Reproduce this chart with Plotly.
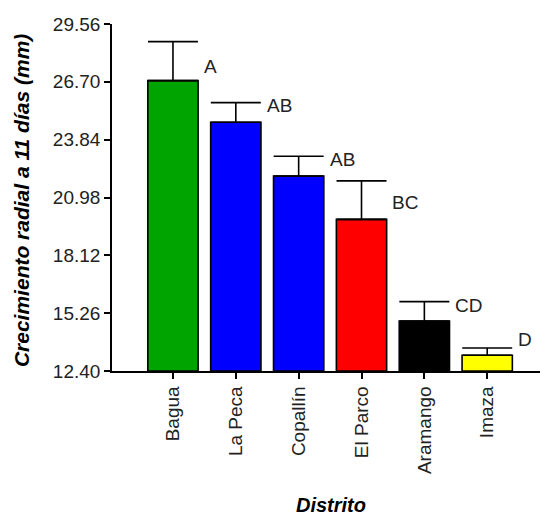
import plotly.graph_objects as go

# Radial growth after 11 days per district (mean and standard error)
districts = ["Bagua", "La Peca", "Copallín", "El Parco", "Aramango", "Imaza"]
growth_mean = [26.76, 24.70, 22.04, 19.90, 14.87, 13.18]
growth_err = [1.93, 0.97, 0.98, 1.90, 0.96, 0.36]
group_letters = ["A", "AB", "AB", "BC", "CD", "D"]
letter_y = [27.48, 25.51, 22.84, 20.71, 15.66, 13.98]
bar_colors = ["#00a400", "#0000ff", "#0000ff", "#ff0000", "#000000", "#ffff00"]
y_ticks = [12.40, 15.26, 18.12, 20.98, 23.84, 26.70, 29.56]

FONT = "Arial, Liberation Sans, sans-serif"
x_idx = list(range(len(districts)))
floor = y_ticks[0]

fig = go.Figure()
# Bars start at the axis floor; heights are the means above it
fig.add_trace(go.Bar(
    x=x_idx,
    y=[v - floor for v in growth_mean],
    base=floor,
    width=0.8,
    marker=dict(color=bar_colors, line=dict(color="black", width=1.6)),
    error_y=dict(type="data", symmetric=False, array=growth_err,
                 arrayminus=[0] * len(growth_err),
                 color="black", thickness=1.6, width=25),
    showlegend=False,
))

for i, (lab, ly) in enumerate(zip(group_letters, letter_y)):
    fig.add_annotation(x=i + 0.46, y=ly, text=lab, showarrow=False,
                       xanchor="left", yanchor="middle",
                       font=dict(family=FONT, size=19, color="#222222"))

fig.add_annotation(xref="paper", yref="paper", x=-0.21, y=0.49,
                   text="<b><i>Crecimiento radial a 11 días (mm)</i></b>",
                   textangle=-90, showarrow=False,
                   xanchor="center", yanchor="middle",
                   font=dict(family=FONT, size=21, color="black"))
fig.add_annotation(xref="paper", yref="paper", x=0.512, y=-0.386,
                   text="<b><i>Distrito</i></b>", showarrow=False,
                   xanchor="center", yanchor="middle",
                   font=dict(family=FONT, size=20, color="black"))

fig.update_layout(
    width=545, height=515,
    margin=dict(l=112, r=5, t=24, b=144),
    plot_bgcolor="white", paper_bgcolor="white",
    font=dict(family=FONT, size=19, color="#222222"),
    bargap=0.2,
)
fig.update_xaxes(
    range=[-0.97, 5.84],
    tickmode="array", tickvals=x_idx, ticktext=districts,
    tickangle=-90,
    showline=True, linecolor="black", linewidth=1.6,
    ticks="outside", ticklen=6, tickwidth=1.6, tickcolor="black",
    showgrid=False, zeroline=False,
    tickfont=dict(family=FONT, size=19, color="#222222"),
)
fig.update_yaxes(
    range=[floor, y_ticks[-1]],
    tickmode="array", tickvals=y_ticks,
    ticktext=[f"{t:.2f}" for t in y_ticks],
    showline=True, linecolor="black", linewidth=1.6,
    ticks="outside", ticklen=6, tickwidth=1.6, tickcolor="black",
    showgrid=False, zeroline=False,
    tickfont=dict(family=FONT, size=19, color="#222222"),
)

fig.write_html("out.html")
